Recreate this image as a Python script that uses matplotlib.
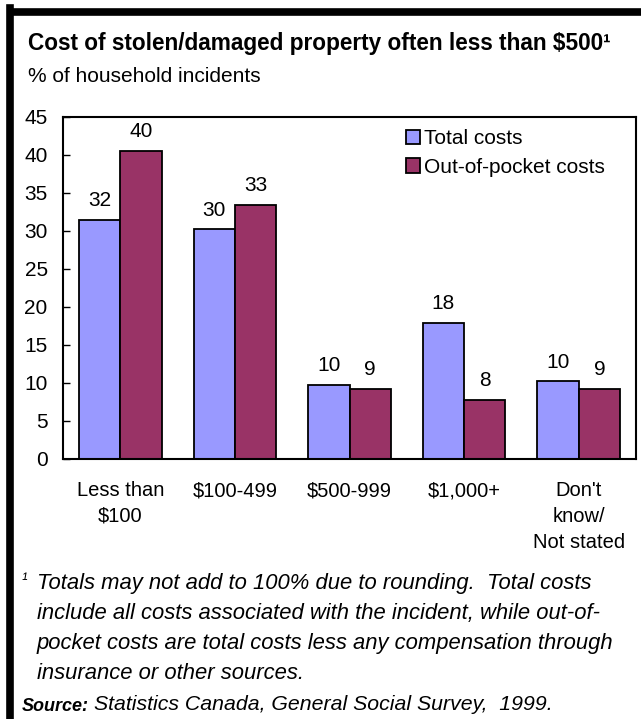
import numpy as np
import matplotlib.pyplot as plt

plt.rcParams['font.family'] = ['Liberation Sans', 'DejaVu Sans']

categories = ["Less than\n$100", "$100-499", "$500-999", "$1,000+", "Don't\nknow/\nNot stated"]
total_costs = [31.5, 30.2, 9.7, 17.9, 10.2]
pocket_costs = [40.5, 33.4, 9.2, 7.8, 9.2]
total_labels = ["32", "30", "10", "18", "10"]
pocket_labels = ["40", "33", "9", "8", "9"]
yticks = [0, 5, 10, 15, 20, 25, 30, 35, 40, 45]

W, H = 641, 719
fig = plt.figure(figsize=(W / 100, H / 100), dpi=100)

def px(x, y):
    # pixel coords (from top-left) -> figure fraction
    return x / W, 1 - y / H

# frame: thick left and top rules
fig.add_artist(plt.Line2D([9.5 / W, 9.5 / W], [0, 1 - 8 / H], color='black', lw=5.5, solid_capstyle='projecting'))
fig.add_artist(plt.Line2D([9.5 / W, 1], [1 - 11.5 / H, 1 - 11.5 / H], color='black', lw=5.5, solid_capstyle='butt'))

ax = fig.add_axes([63 / W, 1 - 459 / H, (636 - 63) / W, (459 - 117) / H])

x = np.arange(len(categories))
w = 0.36
b1 = ax.bar(x - w / 2, total_costs, w, color='#9999FF', edgecolor='black', linewidth=1.3, label='Total costs')
b2 = ax.bar(x + w / 2, pocket_costs, w, color='#993366', edgecolor='black', linewidth=1.3, label='Out-of-pocket costs')

for rect, lab in zip(b1, total_labels):
    ax.text(rect.get_x() + rect.get_width() / 2, rect.get_height() + 1.3, lab,
            ha='center', va='bottom', fontsize=15)
for rect, lab in zip(b2, pocket_labels):
    ax.text(rect.get_x() + rect.get_width() / 2, rect.get_height() + 1.3, lab,
            ha='center', va='bottom', fontsize=15)

ax.set_xlim(-0.5, len(categories) - 0.5)
ax.set_ylim(0, 45)
ax.set_yticks(yticks)
ax.tick_params(axis='y', labelsize=15, length=5, width=1.0, direction='in', pad=11)
ax.set_xticks(x)
ax.set_xticklabels(categories, fontsize=14.5, linespacing=1.45, va='top')
ax.tick_params(axis='x', length=0, pad=16)
for s in ax.spines.values():
    s.set_linewidth(1.5)

ax.legend(loc='upper right', bbox_to_anchor=(0.968, 1.0), frameon=False, fontsize=15,
          handlelength=0.7, handleheight=0.7, handletextpad=0.2, labelspacing=0.45,
          borderaxespad=0.2)

fig.text(*px(28, 50), "Cost of stolen/damaged property often less than $500\u00b9",
         fontsize=16.3, fontweight='bold', va='baseline', ha='left')
fig.text(*px(28, 82), "% of household incidents", fontsize=15, va='baseline', ha='left')

foot = ["Totals may not add to 100% due to rounding.  Total costs",
        "include all costs associated with the incident, while out-of-",
        "pocket costs are total costs less any compensation through",
        "insurance or other sources."]
fig.text(*px(22, 585), "\u00b9", fontsize=12, style='italic', va='baseline')
for i, line in enumerate(foot):
    fig.text(*px(37, 589 + i * 30), line, fontsize=15.8, style='italic', va='baseline')

fig.text(*px(22, 711), "Source:", fontsize=13, style='italic', fontweight='bold', va='baseline')
fig.text(*px(94, 710), "Statistics Canada, General Social Survey,  1999.", fontsize=15.3,
         style='italic', va='baseline')

fig.savefig('out.png', dpi=100)
